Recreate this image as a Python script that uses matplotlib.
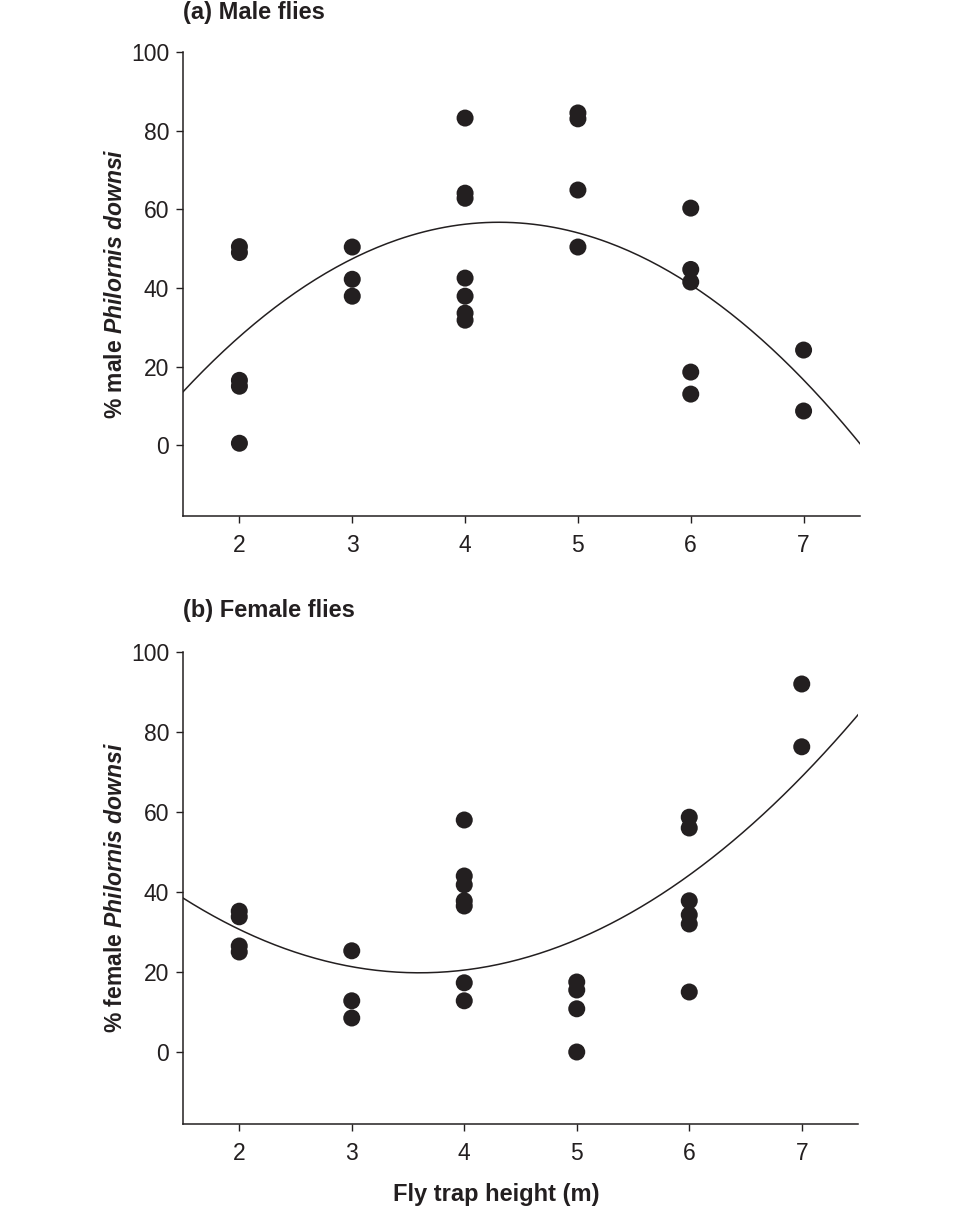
import numpy as np
import matplotlib
matplotlib.use("Agg")
import matplotlib.pyplot as plt

plt.rcParams['font.family'] = ['Liberation Sans', 'DejaVu Sans']
plt.rcParams['mathtext.fontset'] = 'custom'
plt.rcParams['mathtext.rm'] = 'Liberation Sans'
plt.rcParams['mathtext.it'] = 'Liberation Sans:italic'
plt.rcParams['mathtext.bf'] = 'Liberation Sans:bold'
plt.rcParams['mathtext.bfit'] = 'Liberation Sans:italic:bold'

INK = '#231f20'

# (a) male flies: % male per trap height
male_x = [2, 2, 2, 2, 2,
          3, 3, 3,
          4, 4, 4, 4, 4, 4, 4,
          5, 5, 5, 5,
          6, 6, 6, 6, 6,
          7, 7]
male_y = [50.5, 49.0, 16.5, 15.0, 0.5,
          50.4, 42.2, 37.9,
          83.2, 64.1, 62.8, 42.5, 37.9, 33.6, 31.8,
          84.5, 83.0, 64.9, 50.4,
          60.3, 44.7, 41.5, 18.6, 13.0,
          24.2, 8.7]

# (b) female flies: % female per trap height
female_x = [2, 2, 2, 2,
            3, 3, 3,
            4, 4, 4, 4, 4, 4, 4,
            5, 5, 5, 5,
            6, 6, 6, 6, 6, 6,
            7, 7]
female_y = [35.2, 33.8, 26.5, 25.0,
            25.3, 12.8, 8.5,
            58.0, 44.0, 41.8, 37.8, 36.5, 17.3, 12.8,
            17.5, 15.5, 10.8, 0.0,
            58.7, 56.0, 37.8, 34.3, 32.0, 15.0,
            92.0, 76.3]

# quadratic fits a*(x-h)^2 + k
male_fit = (-5.50, 4.30, 56.7)
female_fit = (4.24, 3.60, 19.8)

xticks = [2, 3, 4, 5, 6, 7]
yticks = [0, 20, 40, 60, 80, 100]

fig = plt.figure(figsize=(9.6, 12.08), dpi=100)
ax1 = fig.add_axes([183/960, 1-516/1208, 677/960, 464/1208])
ax2 = fig.add_axes([183/960, 1-1124/1208, 675/960, 472/1208])

xs = np.linspace(1.5, 7.5, 200)
panels = [
    (ax1, male_x, male_y, male_fit, r'% male $\mathbfit{Philornis\ downsi}$', '(a) Male flies', 12),
    (ax2, female_x, female_y, female_fit, r'% female $\mathbfit{Philornis\ downsi}$', '(b) Female flies', 611),
]
for ax, px, py, fit, ylab, title, ty in panels:
    a, h, k = fit
    ax.plot(xs, a*(xs-h)**2 + k, color=INK, lw=1.1, zorder=2)
    ax.scatter(px, py, s=150, color=INK, edgecolors='none', zorder=3, clip_on=False)
    ax.set_xlim(1.5, 7.5)
    ax.set_ylim(-18, 100)
    ax.set_xticks(xticks)
    ax.set_yticks(yticks)
    ax.spines['top'].set_visible(False)
    ax.spines['right'].set_visible(False)
    for s in ['left', 'bottom']:
        ax.spines[s].set_linewidth(1.1)
        ax.spines[s].set_color(INK)
    ax.tick_params(direction='out', length=5, width=1.0, colors=INK,
                   labelsize=16.5)
    ax.tick_params(axis='x', pad=8)
    ax.tick_params(axis='y', pad=5)
    ax.set_ylabel(ylab, fontsize=16.5, fontweight='bold', color=INK, labelpad=3)
    fig.text(183/960, 1-ty/1208, title, fontsize=17, fontweight='bold',
             color=INK, ha='left', va='center')

ax2.set_xlabel('Fly trap height (m)', fontsize=17, fontweight='bold', color=INK)
ax2.xaxis.set_label_coords((496-183)/675, -(1195-1124)/472, transform=ax2.transAxes)
ax2.xaxis.label.set_va('center')

fig.savefig('out.png', dpi=100, facecolor='white')
